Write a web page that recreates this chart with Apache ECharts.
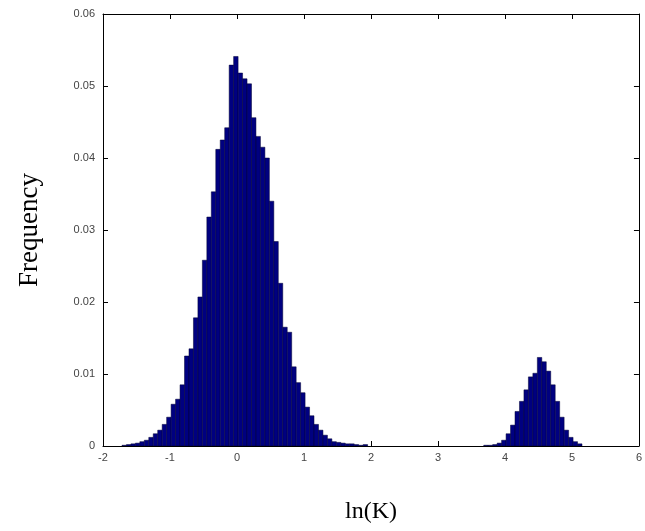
<!DOCTYPE html>
<html>
<head>
<meta charset="utf-8">
<script src="https://cdn.jsdelivr.net/npm/echarts@6/dist/echarts.min.js"></script>
<style>html,body{margin:0;padding:0;background:#fff;}#c{width:645px;height:531px;}</style>
</head>
<body>
<div id="c"></div>
<script>
// histogram bin width (ln K units)
const binWidth = 1 / 15;

// main mode: bin centres and frequencies
const mainCenters = [-1.6833,-1.6167,-1.55,-1.4833,-1.4167,-1.35,-1.2833,-1.2167,-1.15,-1.0833,
  -1.0167,-0.95,-0.8833,-0.8167,-0.75,-0.6833,-0.6167,-0.55,-0.4833,-0.4167,
  -0.35,-0.2833,-0.2167,-0.15,-0.0833,-0.0167,0.05,0.1167,0.1833,0.25,
  0.3167,0.3833,0.45,0.5167,0.5833,0.65,0.7167,0.7833,0.85,0.9167,
  0.9833,1.05,1.1167,1.1833,1.25,1.3167,1.3833,1.45,1.5167,1.5833,
  1.65,1.7167,1.7833,1.85,1.9167];
const mainFreq = [0.0001,0.0002,0.0003,0.0004,0.0006,0.0008,0.0012,0.0017,0.0022,0.0030,
  0.0040,0.0058,0.0065,0.0085,0.0125,0.0135,0.0178,0.0207,0.0258,0.0318,
  0.0353,0.0412,0.0425,0.0442,0.0529,0.0541,0.0518,0.0510,0.0503,0.0456,
  0.0430,0.0415,0.0400,0.0340,0.0284,0.0226,0.0165,0.0158,0.0110,0.0088,
  0.0074,0.0054,0.0042,0.0030,0.0022,0.0015,0.0010,0.0006,0.0005,0.0004,
  0.0003,0.0003,0.0002,0.0001,0.0002];

// secondary mode
const minorCenters = [3.7167,3.7833,3.85,3.9167,3.9833,4.05,4.1167,4.1833,4.25,4.3167,
  4.3833,4.45,4.5167,4.5833,4.65,4.7167,4.7833,4.85,4.9167,4.9833,5.05,5.1167];
const minorFreq = [0.0001,0.0001,0.0002,0.0004,0.0008,0.0017,0.0029,0.0048,0.0062,0.0078,
  0.0096,0.0101,0.0123,0.0117,0.0104,0.0085,0.0062,0.0040,0.0022,0.0012,0.0006,0.0003];

// axis ticks
const xTicks = [-2,-1,0,1,2,3,4,5,6];
const yTicks = [0,0.01,0.02,0.03,0.04,0.05,0.06];

const data = mainCenters.map((c, i) => [c, mainFreq[i]])
  .concat(minorCenters.map((c, i) => [c, minorFreq[i]]));

const chart = echarts.init(document.getElementById('c'), null, {renderer: 'canvas'});
const tickLabel = {fontFamily: 'Liberation Sans, Arial, sans-serif', fontSize: 11, color: '#444'};
const lineStyle = {color: '#000', width: 1};

chart.setOption({
  backgroundColor: '#fff',
  animation: false,
  grid: {left: 103, right: 3, top: 14, bottom: 85},
  xAxis: [{
    type: 'value', min: xTicks[0], max: xTicks[xTicks.length - 1], interval: 1,
    axisLine: {show: true, onZero: false, lineStyle},
    axisTick: {show: true, inside: true, length: 5, lineStyle},
    axisLabel: Object.assign({margin: 6, formatter: v => String(v)}, tickLabel),
    splitLine: {show: false},
    name: 'ln(K)', nameLocation: 'middle', nameGap: 54,
    nameTextStyle: {fontFamily: 'Liberation Serif, Times New Roman, serif', fontSize: 24, color: '#000'}
  }, {
    type: 'value', position: 'top', min: xTicks[0], max: xTicks[xTicks.length - 1], interval: 1,
    axisLine: {show: true, onZero: false, lineStyle},
    axisTick: {show: true, inside: true, length: 5, lineStyle},
    axisLabel: {show: false}, splitLine: {show: false}
  }],
  yAxis: [{
    type: 'value', min: yTicks[0], max: yTicks[yTicks.length - 1], interval: 0.01,
    axisLine: {show: true, onZero: false, lineStyle},
    axisTick: {show: true, inside: true, length: 5, lineStyle},
    axisLabel: Object.assign({margin: 8, formatter: v => v === 0 ? '0' : v.toFixed(2)}, tickLabel),
    splitLine: {show: false},
    name: 'Frequency', nameLocation: 'middle', nameGap: 60, nameRotate: 90,
    nameTextStyle: {fontFamily: 'Liberation Serif, Times New Roman, serif', fontSize: 27, color: '#000'}
  }, {
    type: 'value', position: 'right', min: yTicks[0], max: yTicks[yTicks.length - 1], interval: 0.01,
    axisLine: {show: true, onZero: false, lineStyle},
    axisTick: {show: true, inside: true, length: 5, lineStyle},
    axisLabel: {show: false}, splitLine: {show: false}
  }],
  series: [{
    type: 'custom',
    xAxisIndex: 0, yAxisIndex: 0,
    clip: true,
    encode: {x: 0, y: 1},
    data: data,
    renderItem: function (params, api) {
      const x = api.value(0), y = api.value(1);
      const p0 = api.coord([x - binWidth / 2, y]);
      const p1 = api.coord([x + binWidth / 2, 0]);
      return {
        type: 'rect',
        shape: {x: p0[0], y: p0[1], width: p1[0] - p0[0], height: p1[1] - p0[1]},
        style: {fill: '#000080', stroke: '#000033', lineWidth: 0.5}
      };
    }
  }]
});
</script>
</body>
</html>
